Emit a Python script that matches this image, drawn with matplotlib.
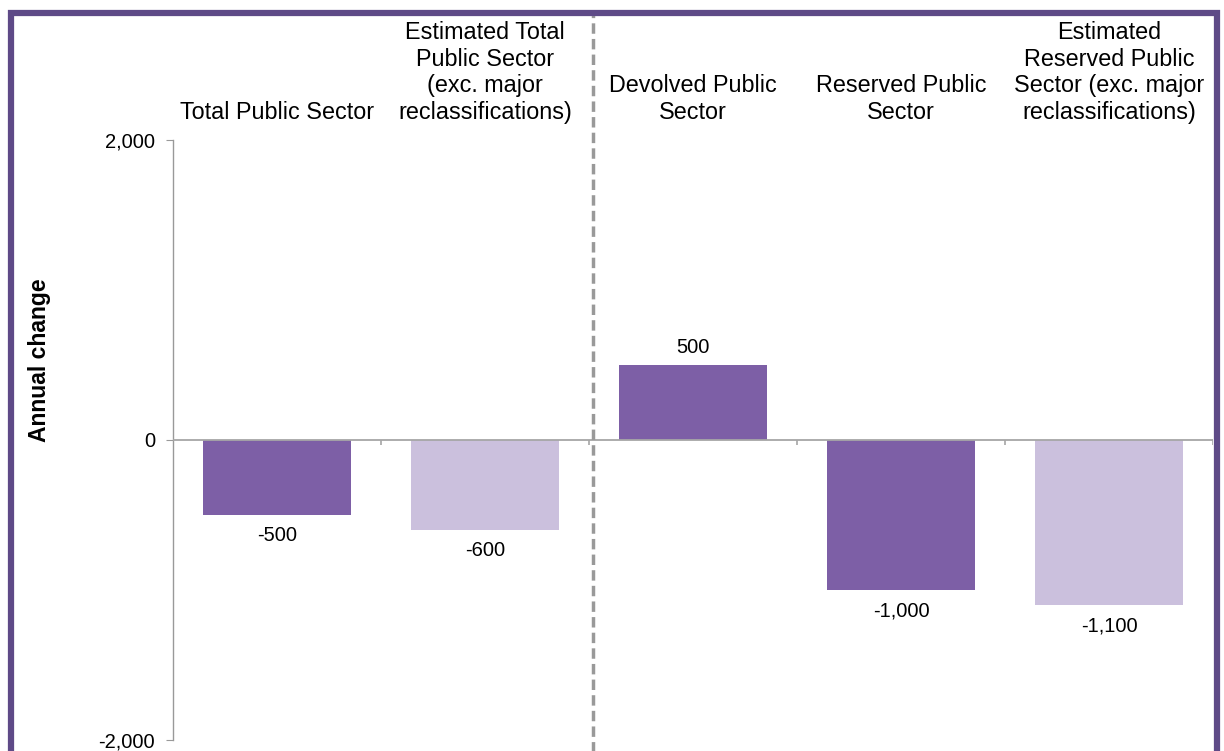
import matplotlib.pyplot as plt
from matplotlib.patches import Rectangle

plt.rcParams['font.family'] = ['Liberation Sans', 'DejaVu Sans']

# Chart data
categories = [
    'Total Public Sector',
    'Estimated Total\nPublic Sector\n(exc. major\nreclassifications)',
    'Devolved Public\nSector',
    'Reserved Public\nSector',
    'Estimated\nReserved Public\nSector (exc. major\nreclassifications)',
]
values = [-500, -600, 500, -1000, -1100]
value_labels = ['-500', '-600', '500', '-1,000', '-1,100']
y_ticks = [-2000, 0, 2000]
y_tick_labels = ['-2,000', '0', '2,000']

dark = '#7d5fa6'
light = '#cbc0dd'
bar_colors = [dark, light, dark, dark, light]

fig = plt.figure(figsize=(12.24, 7.51), dpi=100)
ax = fig.add_axes([0.1413, 0.0145, 0.8497, 0.7995])

x = list(range(len(categories)))
bars = ax.bar(x, values, width=0.71, color=bar_colors, zorder=2)

ax.set_xlim(-0.5, len(categories) - 0.5)
ax.set_ylim(-2000, 2000)
ax.set_yticks(y_ticks)
ax.set_yticklabels(y_tick_labels, fontsize=14.5)
ax.set_xticks([])
ax.tick_params(axis='y', length=5, color='#999999', pad=8)

for s in ['top', 'right', 'bottom']:
    ax.spines[s].set_visible(False)
ax.spines['left'].set_color('#999999')
ax.spines['left'].set_linewidth(1)

# zero line with category separators
ax.axhline(0, color='#a6a6a6', lw=1.3, zorder=3)
ax.vlines([i + 0.5 for i in x], 0, -35, color='#a6a6a6', lw=1.2, zorder=3)

# dashed divider between UK-wide and devolved/reserved
ax.axvline(1.52, ymin=-0.05, ymax=1.215, clip_on=False, color='#999999',
           lw=2.5, ls=(0, (3, 1.5)), zorder=4)

# value labels
for xi, v, lab in zip(x, values, value_labels):
    if v >= 0:
        ax.annotate(lab, (xi, v), xytext=(0, 6), textcoords='offset points',
                    ha='center', va='bottom', fontsize=14.5)
    else:
        ax.annotate(lab, (xi, v), xytext=(0, -8), textcoords='offset points',
                    ha='center', va='top', fontsize=14.5)

# category labels above plot
for xi, cat in zip(x, categories):
    ax.text(xi, 1.026, cat, transform=ax.get_xaxis_transform(),
            ha='center', va='bottom', fontsize=16.8, linespacing=1.2)

fig.text(0.032, 0.52, 'Annual change', rotation=90, ha='center', va='center',
         fontsize=16.5, fontweight='bold')

# purple frame
fig.patches.append(Rectangle((0.009, -0.05), 0.9853, 1.033, transform=fig.transFigure,
                             fill=False, edgecolor='#5e4a87', lw=4.5, zorder=10))

fig.savefig('out.png', dpi=100)
